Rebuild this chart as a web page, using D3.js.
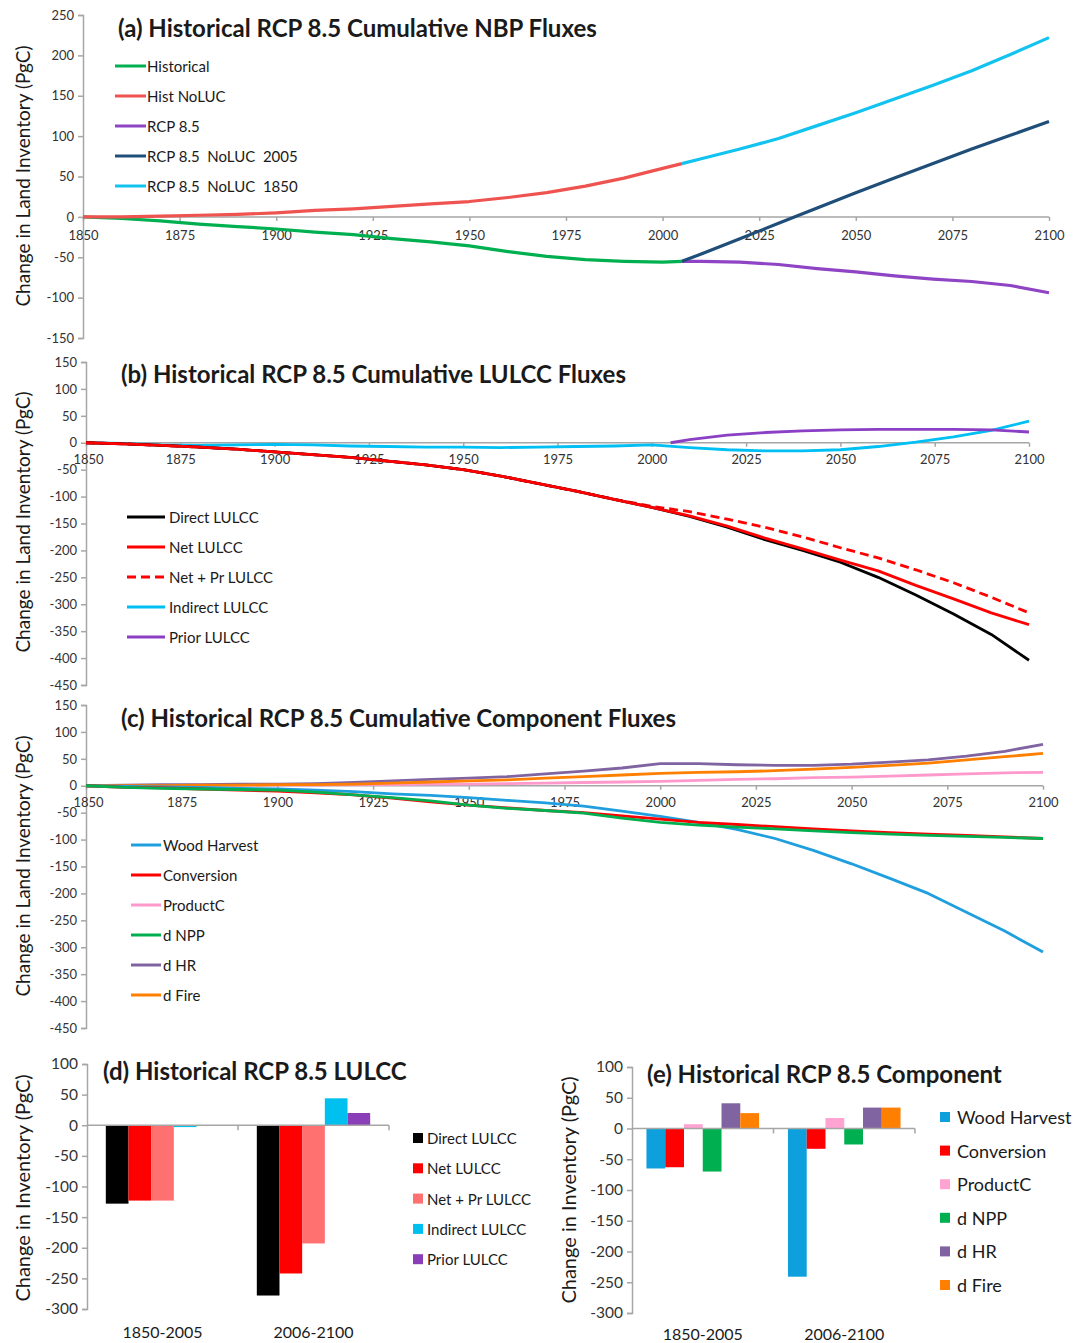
<!DOCTYPE html>
<html>
<head>
<meta charset="utf-8">
<script src="https://cdn.jsdelivr.net/npm/d3@7"></script>
<style>
  body { margin: 0; background: #fff; }
  text { font-family: Lato, "Open Sans", sans-serif; fill: #1a1a1a; }
  .axis path, .axis line { stroke: #a6a6a6; stroke-width: 1.5; }
  .axis text { font-size: 13px; fill: #333; }
</style>
</head>
<body>
<div id="chart"></div>
<script>
// ---- panel (a): cumulative NBP ----
const yearsHist = [1850,1860,1870,1880,1890,1900,1910,1920,1930,1940,1950,1960,1970,1980,1990,2000,2005];
const historical = [0,-2,-5,-9,-12,-15,-19,-22,-27,-31,-36,-43,-49,-53,-55,-56,-55];
const histNoLuc  = [0,0,1,2,3,5,8,10,13,16,19,24,30,38,48,60,66];
const yearsFut = [2005,2010,2020,2030,2040,2050,2060,2070,2080,2090,2100];
const rcp85       = [-55,-55,-56,-59,-64,-68,-73,-77,-80,-85,-94];
const noLuc2005   = [-55,-46,-27,-8,11,30,48,66,84,101,118];
const noLuc1850   = [66,72,84,97,113,129,146,163,181,201,222];

// ---- panel (b): cumulative LULCC ----
const yearsB = [1850,1860,1870,1880,1890,1900,1910,1920,1930,1940,1950,1960,1970,1980,1990,2000,2010,2020,2030,2040,2050,2060,2070,2080,2090,2100];
const directLulcc   = [0,-2,-5,-8,-12,-17,-22,-27,-34,-41,-50,-62,-76,-90,-105,-120,-137,-157,-180,-200,-222,-250,-283,-318,-356,-404];
const netLulcc      = [0,-2,-5,-8,-12,-17,-22,-27,-34,-41,-50,-62,-76,-90,-105,-120,-136,-155,-177,-197,-218,-238,-265,-290,-316,-338];
const netPrLulcc    = [0,-2,-5,-8,-12,-17,-22,-27,-34,-41,-50,-62,-76,-90,-105,-118,-128,-142,-157,-175,-195,-214,-236,-260,-287,-316];
const indirectLulcc = [0,-1,-4,-5,-4,-3,-4,-6,-7,-8,-8,-9,-8,-7,-6,-4,-9,-13,-15,-15,-13,-7,1,11,23,40];
const yearsPrior = [2005,2010,2020,2030,2040,2050,2060,2070,2080,2090,2100];
const priorLulcc = [0,6,14,19,22,24,25,25,25,24,20];

// ---- panel (c): cumulative components ----
const yearsC = yearsB;
const woodHarvest = [0,-1,-2,-3,-5,-6,-8,-11,-15,-18,-22,-27,-32,-38,-47,-57,-68,-81,-98,-120,-145,-172,-200,-235,-270,-309];
const conversion  = [0,-3,-4,-6,-8,-10,-13,-17,-23,-30,-36,-41,-46,-50,-56,-62,-68,-72,-76,-80,-84,-87,-90,-92,-95,-98];
const productC    = [0,0,0,1,1,1,1,2,2,3,3,4,5,6,7,8,10,12,13,15,16,18,20,22,24,25];
const dNpp        = [0,-3,-5,-6,-7,-8,-12,-17,-22,-28,-36,-42,-46,-51,-60,-68,-73,-77,-80,-84,-87,-90,-92,-94,-96,-98];
const dHr         = [0,1,2,2,3,3,4,6,9,12,14,17,22,27,33,41,41,39,38,38,40,44,48,55,64,77];
const dFire       = [0,0,0,1,1,2,2,3,5,7,9,11,14,17,20,23,25,26,28,31,34,38,42,48,54,60];

// ---- panels (d) and (e): period totals ----
const periods = ['1850-2005', '2006-2100'];
const lulccNames  = ['Direct LULCC', 'Net LULCC', 'Net + Pr LULCC', 'Indirect LULCC', 'Prior LULCC'];
const lulccTotals = [[-128, -278], [-123, -242], [-123, -193], [-3, 44], [0, 20]];
const compNames  = ['Wood Harvest', 'Conversion', 'ProductC', 'd NPP', 'd HR', 'd Fire'];
const compTotals = [[-65, -241], [-63, -33], [7, 17], [-70, -26], [41, 34], [25, 34]];

const yearTicks = d3.range(1850, 2101, 25);

const svg = d3.select('#chart').append('svg').attr('width', 1091).attr('height', 1343);

function yLabel(text, x, cy, size) {
  svg.append('text').attr('transform', `translate(${x},${cy}) rotate(-90)`)
    .attr('text-anchor', 'middle').attr('dominant-baseline', 'central')
    .attr('font-size', size).text(text);
}

function title(text, x, y) {
  svg.append('text').attr('x', x).attr('y', y).attr('font-size', 24)
    .attr('font-weight', 700).attr('fill', '#111').text(text);
}

// plain hyphen minus, like the spreadsheet labels
const plain = d => String(d);

function yAxis(y, x0, ticks, fs) {
  const g = svg.append('g').attr('class', 'axis').attr('transform', `translate(${x0},0)`)
    .call(d3.axisLeft(y).tickValues(ticks).tickSize(5).tickSizeOuter(5).tickPadding(4).tickFormat(plain));
  if (fs) g.selectAll('text').style('font-size', fs + 'px');
  return g;
}

function linePanel(p) {
  const x = d3.scaleLinear().domain([1850, 2100]).range(p.xr);
  const y = d3.scaleLinear().domain(p.yd).range(p.yr);
  yAxis(y, p.xr[0], d3.range(p.yd[0], p.yd[1] + 1, 50));
  const gx = svg.append('g').attr('class', 'axis').attr('transform', `translate(0,${y(0)})`)
    .call(d3.axisBottom(x).tickValues(yearTicks).tickSize(4).tickSizeOuter(0).tickPadding(p.xpad || 10).tickFormat(plain));
  gx.select('.domain').attr('d', `M${p.xr[0]},0H${p.xr[1]}`);
  // first year label sits just right of the y tick labels, as in the original
  gx.selectAll('.tick text').filter(d => d === 1850).attr('dx', p.firstDx || 0);
  const line = d3.line().x(d => x(d[0])).y(d => y(d[1]));
  p.series.forEach(s => {
    svg.append('path').datum(s.years.map((yr, i) => [yr, s.values[i]]))
      .attr('d', line).attr('fill', 'none').attr('stroke', s.color)
      .attr('stroke-width', p.lw).attr('stroke-linejoin', 'round')
      .attr('stroke-dasharray', s.dash || null);
  });
  // legend
  p.series.slice().sort((a, b) => a.order - b.order).forEach((s, i) => {
    const ly = p.leg.y + i * 30;
    svg.append('line').attr('x1', p.leg.x1).attr('x2', p.leg.x2).attr('y1', ly).attr('y2', ly)
      .attr('stroke', s.color).attr('stroke-width', 3).attr('stroke-dasharray', s.dash || null);
    svg.append('text').attr('x', p.leg.tx).attr('y', ly).attr('dominant-baseline', 'central')
      .attr('font-size', 15).style('white-space', 'pre').text(s.name);
  });
}

// (a)
linePanel({
  xr: [83, 1049], yd: [-150, 250], yr: [338, 15], lw: 3.2,
  leg: { x1: 115, x2: 146, tx: 147, y: 66 },
  series: [
    { name: 'Historical', order: 0, years: yearsHist, values: historical, color: '#00b050' },
    { name: 'Hist NoLUC', order: 1, years: yearsHist, values: histNoLuc, color: '#ef5350' },
    { name: 'RCP 8.5', order: 2, years: yearsFut, values: rcp85, color: '#8e44c4' },
    { name: 'RCP 8.5  NoLUC  2005', order: 3, years: yearsFut, values: noLuc2005, color: '#1f4e79' },
    { name: 'RCP 8.5  NoLUC  1850', order: 4, years: yearsFut, values: noLuc1850, color: '#12c3f0' },
  ],
});
title('(a) Historical RCP 8.5 Cumulative NBP Fluxes', 118, 37);
yLabel('Change in Land Inventory (PgC)', 22, 176, 19);

// (b)
linePanel({
  xr: [86, 1029], yd: [-450, 150], yr: [685, 362], lw: 2.8, xpad: 8, firstDx: 2,
  leg: { x1: 127, x2: 165, tx: 169, y: 517 },
  series: [
    { name: 'Indirect LULCC', order: 3, years: yearsB, values: indirectLulcc, color: '#00bff3' },
    { name: 'Prior LULCC', order: 4, years: yearsPrior, values: priorLulcc, color: '#8a3fc4' },
    { name: 'Net + Pr LULCC', order: 2, years: yearsB, values: netPrLulcc, color: '#ff0000', dash: '9,5' },
    { name: 'Direct LULCC', order: 0, years: yearsB, values: directLulcc, color: '#000000' },
    { name: 'Net LULCC', order: 1, years: yearsB, values: netLulcc, color: '#ff0000' },
  ],
});
title('(b) Historical RCP 8.5 Cumulative LULCC Fluxes', 121, 383);
yLabel('Change in Land Inventory (PgC)', 22, 522, 19);

// (c)
linePanel({
  xr: [86, 1043], yd: [-450, 150], yr: [1028, 705], lw: 2.8, xpad: 8, firstDx: 2,
  leg: { x1: 131, x2: 161, tx: 163, y: 845 },
  series: [
    { name: 'ProductC', order: 2, years: yearsC, values: productC, color: '#ff99cc' },
    { name: 'd HR', order: 4, years: yearsC, values: dHr, color: '#8064a2' },
    { name: 'd Fire', order: 5, years: yearsC, values: dFire, color: '#ff7f00' },
    { name: 'Wood Harvest', order: 0, years: yearsC, values: woodHarvest, color: '#1f9fde' },
    { name: 'Conversion', order: 1, years: yearsC, values: conversion, color: '#ff0000' },
    { name: 'd NPP', order: 3, years: yearsC, values: dNpp, color: '#00b050' },
  ],
});
title('(c) Historical RCP 8.5 Cumulative Component Fluxes', 121, 727);
yLabel('Change in Land Inventory (PgC)', 22, 866, 19);

// bar panels
function barPanel(p) {
  const y = d3.scaleLinear().domain([-300, 100]).range(p.yr);
  const x0 = d3.scaleBand().domain(periods).range(p.xr);
  const x1 = d3.scaleBand().domain(p.names).range([0, x0.bandwidth()]).paddingOuter(p.pad);
  yAxis(y, p.xr[0], d3.range(-300, 101, 50), 15.5);
  p.names.forEach((n, i) => {
    svg.append('g').selectAll('rect').data(periods).join('rect')
      .attr('x', d => x0(d) + x1(n)).attr('width', x1.bandwidth())
      .attr('y', (d, j) => y(Math.max(0, p.values[i][j])))
      .attr('height', (d, j) => Math.abs(y(p.values[i][j]) - y(0)))
      .attr('fill', p.colors[i]);
  });
  const z = y(0);
  svg.append('line').attr('x1', p.xr[0]).attr('x2', p.xr[1]).attr('y1', z).attr('y2', z)
    .attr('stroke', '#a6a6a6').attr('stroke-width', 1.5);
  [x0(periods[1]), p.xr[1]].forEach(tx => {
    svg.append('line').attr('x1', tx).attr('x2', tx).attr('y1', z).attr('y2', z + 5)
      .attr('stroke', '#a6a6a6').attr('stroke-width', 1.5);
  });
  periods.forEach(d => {
    svg.append('text').attr('x', x0(d) + x0.bandwidth() / 2).attr('y', p.catY)
      .attr('text-anchor', 'middle').attr('font-size', 16).text(d);
  });
  p.names.forEach((n, i) => {
    const ly = p.leg.y + i * p.leg.step;
    svg.append('rect').attr('x', p.leg.x).attr('y', ly - 5).attr('width', 10).attr('height', 10)
      .attr('fill', p.colors[i]);
    svg.append('text').attr('x', p.leg.tx).attr('y', ly).attr('dominant-baseline', 'central')
      .attr('font-size', p.leg.fs).text(n);
  });
}

barPanel({
  xr: [87, 389], yr: [1309, 1064], pad: 0.83, catY: 1338,
  names: lulccNames, values: lulccTotals,
  colors: ['#000000', '#ff0000', '#ff7070', '#00c0f0', '#8a3fb8'],
  leg: { x: 413, tx: 427, y: 1138, step: 30.3, fs: 15 },
});
title('(d) Historical RCP 8.5 LULCC', 103, 1080);
yLabel('Change in Inventory (PgC)', 22, 1188, 20);

barPanel({
  xr: [632, 915], yr: [1313, 1067], pad: 0.77, catY: 1340,
  names: compNames, values: compTotals,
  colors: ['#0ea0dc', '#ff0000', '#ffa3d3', '#00b050', '#8064a2', '#ff7f00'],
  leg: { x: 940, tx: 957, y: 1117, step: 33.6, fs: 18 },
});
title('(e) Historical RCP 8.5 Component', 647, 1083);
yLabel('Change in Inventory (PgC)', 568, 1190, 20);
</script>
</body>
</html>
